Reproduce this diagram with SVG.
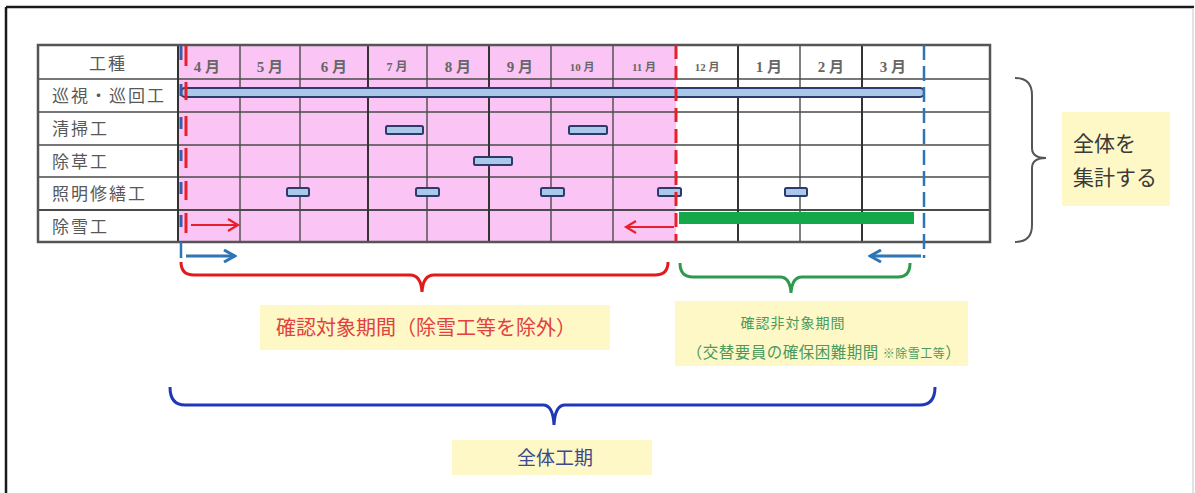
<svg xmlns="http://www.w3.org/2000/svg" width="1195" height="493" viewBox="0 0 1195 493">
<style>
.grid{stroke:#4a4a4a;stroke-width:1.4;fill:none}
.vthick{stroke:#333;stroke-width:2;fill:none}
.mon{font-family:"Liberation Serif","Noto Sans CJK JP",serif;fill:#666;text-anchor:middle;font-weight:bold}
.lbl{font-family:"Noto Sans CJK JP",sans-serif;fill:#585858;font-size:17px;letter-spacing:2px}
.bar{fill:#a9c8ea;stroke:#2d3a6b;stroke-width:2}
.box{fill:#fdf8c6}
.jp{font-family:"Noto Sans CJK JP",sans-serif;text-anchor:middle}
</style>
<defs>
<marker id="ahR" markerWidth="14" markerHeight="14" refX="11" refY="7" orient="auto" markerUnits="userSpaceOnUse"><path d="M1,1 L11,7 L1,13" fill="none" stroke="#e8202a" stroke-width="2.2"/></marker>
<marker id="ahB" markerWidth="14" markerHeight="14" refX="12" refY="7" orient="auto" markerUnits="userSpaceOnUse"><path d="M1,1 L12,7 L1,13" fill="none" stroke="#2e75b6" stroke-width="3"/></marker>
</defs>
<rect width="1195" height="493" fill="#fff"/>
<g id="frame">
<line x1="6" y1="7" x2="1194" y2="7" stroke="#1a1a1a" stroke-width="2.5"/>
<line x1="6" y1="7" x2="6" y2="493" stroke="#1a1a1a" stroke-width="2.5"/>
<line x1="1193" y1="8" x2="1193" y2="493" stroke="#d8d8d8" stroke-width="1.5"/>
</g>
<g id="table">
<rect x="178" y="45" width="498" height="197" fill="#fac5f4"/>
<g class="grid">
<line x1="38" y1="79" x2="990" y2="79"/>
<line x1="38" y1="112" x2="990" y2="112"/>
<line x1="38" y1="145" x2="990" y2="145"/>
<line x1="38" y1="177" x2="990" y2="177"/>
<line x1="38" y1="210" x2="990" y2="210" stroke-width="2"/>
<line x1="240" y1="45" x2="240" y2="242"/>
<line x1="300" y1="45" x2="300" y2="242"/>
<line x1="427" y1="45" x2="427" y2="242"/>
<line x1="551" y1="45" x2="551" y2="242"/>
<line x1="613" y1="45" x2="613" y2="242"/>
<line x1="800" y1="45" x2="800" y2="242"/>
</g>
<g class="vthick">
<line x1="178" y1="45" x2="178" y2="242"/>
<line x1="368" y1="45" x2="368" y2="242"/>
<line x1="489" y1="45" x2="489" y2="242"/>
<line x1="738" y1="45" x2="738" y2="242"/>
<line x1="862" y1="45" x2="862" y2="242"/>
</g>
<rect x="38" y="45" width="952" height="197" fill="none" stroke="#555" stroke-width="2.5"/>
<text class="lbl" x="108" y="70" text-anchor="middle" font-size="17">工種</text>
<text class="mon" x="207" y="72" font-size="15">4 月</text>
<text class="mon" x="270" y="72" font-size="15">5 月</text>
<text class="mon" x="334" y="72" font-size="15">6 月</text>
<text class="mon" x="397" y="71" font-size="12">7 月</text>
<text class="mon" x="458" y="72" font-size="15">8 月</text>
<text class="mon" x="520" y="72" font-size="15">9 月</text>
<text class="mon" x="582" y="71" font-size="11">10 月</text>
<text class="mon" x="644" y="71" font-size="11">11 月</text>
<text class="mon" x="707" y="71" font-size="11">12 月</text>
<text class="mon" x="769" y="72" font-size="15">1 月</text>
<text class="mon" x="831" y="72" font-size="15">2 月</text>
<text class="mon" x="893" y="72" font-size="15">3 月</text>
</g>
<g id="row-junshi">
<text class="lbl" x="52" y="102">巡視・巡回工</text>
<rect class="bar" x="181" y="88" width="743" height="9" rx="4"/>
</g>
<g id="row-seiso">
<text class="lbl" x="52" y="135">清掃工</text>
<rect class="bar" x="386" y="126" width="37" height="8" rx="1.5"/>
<rect class="bar" x="569" y="126" width="38" height="8" rx="1.5"/>
</g>
<g id="row-josou">
<text class="lbl" x="52" y="168">除草工</text>
<rect class="bar" x="474" y="157" width="38" height="8" rx="1.5"/>
</g>
<g id="row-shoumei">
<text class="lbl" x="52" y="200">照明修繕工</text>
<rect class="bar" x="287" y="188" width="22" height="8" rx="1.5"/>
<rect class="bar" x="416" y="188" width="23" height="8" rx="1.5"/>
<rect class="bar" x="541" y="188" width="23" height="8" rx="1.5"/>
<rect class="bar" x="658" y="188" width="23" height="8" rx="1.5"/>
<rect class="bar" x="785" y="188" width="22" height="8" rx="1.5"/>
</g>
<g id="row-josetsu">
<text class="lbl" x="52" y="233">除雪工</text>
<rect x="679" y="212" width="235" height="12" fill="#15a84a"/>
</g>
<g id="connectors">
<g stroke="#3b5aa8" stroke-width="3">
<line x1="181" y1="46" x2="181" y2="60"/>
<line x1="181" y1="84" x2="181" y2="96"/>
<line x1="181" y1="117" x2="181" y2="129"/>
<line x1="181" y1="150" x2="181" y2="161"/>
<line x1="181" y1="182" x2="181" y2="194"/>
<line x1="181" y1="215" x2="181" y2="227"/>
</g>
<line x1="181" y1="242" x2="181" y2="258" stroke="#2e75b6" stroke-width="2.5"/>
<g stroke="#e8202a" stroke-width="3">
<line x1="186" y1="46" x2="186" y2="66"/>
<line x1="186" y1="82" x2="186" y2="100"/>
<line x1="186" y1="116" x2="186" y2="136"/>
<line x1="186" y1="148" x2="186" y2="168"/>
<line x1="186" y1="181" x2="186" y2="200"/>
<line x1="186" y1="213" x2="186" y2="233"/>
</g>
<line x1="676" y1="45" x2="676" y2="242" stroke="#e8202a" stroke-width="3" stroke-dasharray="14 7"/>
<line x1="924" y1="45" x2="924" y2="258" stroke="#2e75b6" stroke-width="2.5" stroke-dasharray="15 6"/>
<line x1="191" y1="225" x2="238" y2="225" stroke="#e8202a" stroke-width="2.2" marker-end="url(#ahR)"/>
<line x1="674" y1="227" x2="626" y2="227" stroke="#e8202a" stroke-width="2.2" marker-end="url(#ahR)"/>
<line x1="186" y1="256" x2="235" y2="256" stroke="#2e75b6" stroke-width="3" marker-end="url(#ahB)"/>
<line x1="921" y1="256" x2="870" y2="256" stroke="#2e75b6" stroke-width="3" marker-end="url(#ahB)"/>
<path d="M181,262 Q181,275 194,275 L410,275 Q421,275 422,292 Q423,275 434,275 L655,275 Q668,275 668,262" fill="none" stroke="#e31a1c" stroke-width="3"/>
<path d="M680,263 Q680,277 693,277 L780,277 Q790,277 791,293 Q792,277 802,277 L898,277 Q910,277 910,263" fill="none" stroke="#2e9a4e" stroke-width="3"/>
<path d="M170,387 Q170,405 185,405 L543,405 Q553,405 554,425 Q555,405 565,405 L920,405 Q935,405 935,387" fill="none" stroke="#2038b8" stroke-width="3"/>
<path d="M1015,78 Q1032,78 1032,95 L1032,148 Q1032,158 1046,158 Q1032,158 1032,168 L1032,225 Q1032,242 1015,242" fill="none" stroke="#555" stroke-width="2"/>
</g>
<g id="label-kakunin">
<rect class="box" x="260" y="305" width="350" height="45"/>
<text class="jp" x="426" y="335" font-size="20" fill="#e34040">確認対象期間（除雪工等を除外）</text>
</g>
<g id="label-hitaisho">
<rect class="box" x="675" y="301" width="293" height="65"/>
<text class="jp" x="793" y="328" font-size="14" fill="#4a9a5e" letter-spacing="1">確認非対象期間</text>
<text class="jp" x="824" y="358" font-size="15.5" fill="#4a9a5e" letter-spacing="0.5">（交替要員の確保困難期間 <tspan font-size="12">※除雪工等</tspan>）</text>
</g>
<g id="label-zentai">
<rect class="box" x="452" y="440" width="200" height="35"/>
<text class="jp" x="555" y="465" font-size="19" fill="#3b4a8f">全体工期</text>
</g>
<g id="label-shukei">
<rect class="box" x="1062" y="112" width="108" height="94"/>
<text x="1073" y="151" font-family="Noto Sans CJK JP,sans-serif" font-size="21" fill="#3a3a3a">全体を</text>
<text x="1073" y="185" font-family="Noto Sans CJK JP,sans-serif" font-size="21" fill="#3a3a3a">集計する</text>
</g>
</svg>
